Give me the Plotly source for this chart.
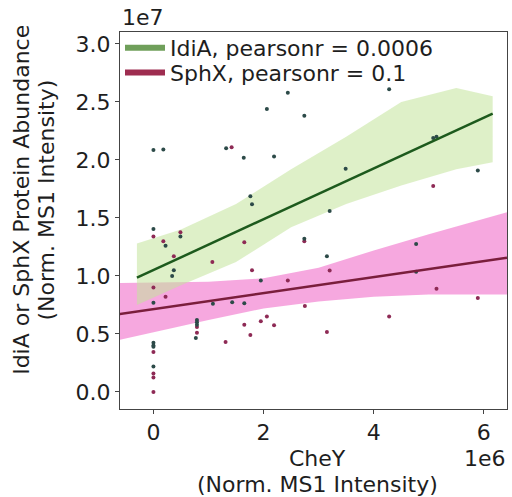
import plotly.graph_objects as go

# ---------------- data (x in units of 1e6, y in units of 1e7) ----------------
idia_x = [0, 0.18, 1.32, 1.64, 2.06, 2.19, 2.44, 2.74, 4.28, 5.08, 5.14, 3.49, 5.89,
          1.76, 1.79, 3.20, 0, 0.22, 0.49, 0.37, 0.34, 2.74, 3.15, 4.77, 4.77, 1.95,
          0, 1.08, 1.43, 1.65, 0.79, 0.79, 0.79, 0.77, 0, 0, 0, 0]
idia_y = [2.086, 2.09, 2.10, 2.02, 2.44, 2.03, 2.58, 2.38, 2.61, 2.19, 2.20, 1.925, 1.91,
          1.687, 1.618, 1.56, 1.405, 1.26, 1.34, 1.05, 1.00, 1.32, 1.17, 1.276, 1.037, 0.96,
          0.77, 0.76, 0.773, 0.765, 0.62, 0.60, 0.58, 0.465, 0.425, 0.40, 0.39, 0.22]

sphx_x = [1.42, 5.08, 0, 0.18, 0.49, 0.37, 1.07, 1.65, 2.74, 1.79, 2.44, 3.20, 0, 0.22,
          2.75, 5.14, 5.89, 4.28, 2.06, 1.95, 2.19, 1.65, 1.76, 3.15, 1.31, 0.79, 0.79,
          0, 0, 0, 0]
sphx_y = [2.11, 1.776, 1.34, 1.30, 1.377, 1.17, 1.12, 1.29, 1.30, 1.05, 0.96, 1.046, 0.90, 0.82,
          0.74, 0.89, 0.81, 0.65, 0.65, 0.61, 0.575, 0.58, 0.49, 0.517, 0.43, 0.56, 0.51,
          0.345, 0.16, 0.125, 0.0]

# regression lines (end points)
idia_fit_x = [-0.30, 6.16]
idia_fit_y = [0.985, 2.40]
sphx_fit_x = [-0.61, 6.42]
sphx_fit_y = [0.672, 1.158]

# confidence bands
idia_ci_x = [-0.30, 0.5, 1.5, 2.5, 3.5, 4.5, 5.5, 6.16]
idia_ci_hi = [1.28, 1.40, 1.62, 1.92, 2.20, 2.50, 2.62, 2.55]
idia_ci_lo = [0.75, 0.92, 1.12, 1.42, 1.62, 1.78, 1.92, 1.98]

sphx_ci_x = [-0.61, 1.0, 2.0, 3.0, 4.0, 5.0, 6.42]
sphx_ci_hi = [0.94, 0.95, 0.98, 1.07, 1.22, 1.36, 1.55]
sphx_ci_lo = [0.45, 0.62, 0.72, 0.78, 0.82, 0.84, 0.84]

labels = ["IdiA, pearsonr = 0.0006", "SphX, pearsonr = 0.1"]
y_ticks = [0.0, 0.5, 1.0, 1.5, 2.0, 2.5, 3.0]
x_ticks = [0, 2, 4, 6]

XS, YS = 1e6, 1e7
sx = lambda v: [a * XS for a in v]
sy = lambda v: [a * YS for a in v]

FONT = "DejaVu Sans"
FS = 22
TXT = "#1e1e1e"
fig = go.Figure()

# bands
fig.add_trace(go.Scatter(x=sx(sphx_ci_x + sphx_ci_x[::-1]), y=sy(sphx_ci_hi + sphx_ci_lo[::-1]),
                         fill="toself", fillcolor="rgba(240,105,200,0.58)", line=dict(width=0),
                         mode="lines", showlegend=False, hoverinfo="skip"))
fig.add_trace(go.Scatter(x=sx(idia_ci_x + idia_ci_x[::-1]), y=sy(idia_ci_hi + idia_ci_lo[::-1]),
                         fill="toself", fillcolor="rgba(195,228,155,0.55)", line=dict(width=0),
                         mode="lines", showlegend=False, hoverinfo="skip"))

# points
fig.add_trace(go.Scatter(x=sx(sphx_x), y=sy(sphx_y), mode="markers",
                         marker=dict(size=4, color="#8e2a55"), showlegend=False))
fig.add_trace(go.Scatter(x=sx(idia_x), y=sy(idia_y), mode="markers",
                         marker=dict(size=4, color="#2c4a48"), showlegend=False))

# fit lines
fig.add_trace(go.Scatter(x=sx(idia_fit_x), y=sy(idia_fit_y), mode="lines",
                         line=dict(color="#1d5a1d", width=2.5), showlegend=False))
fig.add_trace(go.Scatter(x=sx(sphx_fit_x), y=sy(sphx_fit_y), mode="lines",
                         line=dict(color="#7a1e3c", width=2.5), showlegend=False))

# legend entries (one legend box per row to match the tight row spacing)
fig.add_trace(go.Scatter(x=[None], y=[None], mode="lines", name=labels[0],
                         line=dict(color="#6f9f5a", width=6), legend="legend"))
fig.add_trace(go.Scatter(x=[None], y=[None], mode="lines", name=labels[1],
                         line=dict(color="#9e2d50", width=6), legend="legend2"))

axis_common = dict(showgrid=False, zeroline=False, showline=True, linecolor="#444",
                   linewidth=1, mirror=True, ticks="outside", ticklen=4, tickcolor="#444",
                   tickfont=dict(family=FONT, size=FS, color=TXT))

leg_common = dict(x=0.0, xanchor="left", yanchor="middle", bgcolor="rgba(255,255,255,0)",
                  font=dict(family=FONT, size=FS, color=TXT), itemwidth=40)

ann_font = dict(family=FONT, size=FS, color=TXT)

fig.update_layout(
    width=512, height=497,
    margin=dict(l=120, r=5, t=32, b=88),
    plot_bgcolor="white", paper_bgcolor="white",
    font=dict(family=FONT, size=FS, color=TXT),
    xaxis=dict(range=[-0.607e6, 6.42e6], tickvals=sx(x_ticks),
               ticktext=[str(t) for t in x_ticks], **axis_common),
    yaxis=dict(range=[-0.147e7, 3.103e7], tickvals=sy(y_ticks),
               ticktext=[f"{t:.1f}" for t in y_ticks], **axis_common),
    legend=dict(y=0.958, **leg_common),
    legend2=dict(y=0.892, **leg_common),
    annotations=[
        dict(text="IdiA or SphX Protein Abundance", textangle=-90,
             xref="paper", yref="paper", x=-0.253, y=0.555, xanchor="center", yanchor="middle",
             showarrow=False, font=ann_font),
        dict(text="(Norm. MS1 Intensity)", textangle=-90,
             xref="paper", yref="paper", x=-0.189, y=0.555, xanchor="center", yanchor="middle",
             showarrow=False, font=ann_font),
        dict(text="CheY", xref="paper", yref="paper", borderpad=0,
             x=0.51, y=-0.132, xanchor="center", yanchor="middle", showarrow=False, font=ann_font),
        dict(text="(Norm. MS1 Intensity)", xref="paper", yref="paper", borderpad=0,
             x=0.51, y=-0.199, xanchor="center", yanchor="middle", showarrow=False, font=ann_font),
        dict(text="1e6", xref="paper", yref="paper", x=1.0, y=-0.132, xanchor="right",
             borderpad=0, yanchor="middle", showarrow=False, font=ann_font),
        dict(text="1e7", xref="paper", yref="paper", x=0.0, y=1.0, xanchor="left",
             yanchor="bottom", showarrow=False, font=ann_font),
    ],
)

fig.write_html("out.html")
